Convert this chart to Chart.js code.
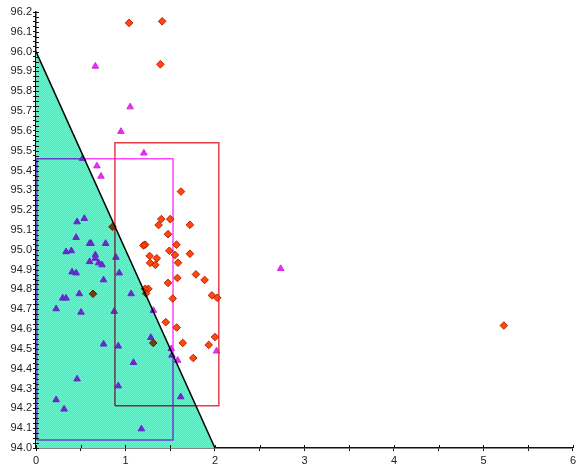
<!DOCTYPE html>
<html>
<head>
<meta charset="utf-8">
<script src="https://cdn.jsdelivr.net/npm/chart.js@4/dist/chart.umd.min.js"></script>
<style>
  html, body { margin: 0; padding: 0; background: #fff; }
  #wrap { width: 579px; height: 464px; }
</style>
</head>
<body>
<div id="wrap"><canvas id="plot"></canvas></div>
<script>
// diamond series (red)
var diamondX = [1.04, 1.41, 1.39, 1.62, 1.40, 1.50, 1.37, 1.72, 1.475, 1.20, 1.22, 1.57, 1.49, 1.553, 1.72, 1.27, 1.35, 1.275, 1.334, 1.587,
  1.58, 1.787, 1.884, 1.475, 1.22, 1.256, 1.23, 1.966, 2.025, 1.528, 1.45, 1.572, 2.0, 1.93, 1.64, 1.757, 1.31, 0.855, 0.637, 5.228];
var diamondY = [96.145, 96.153, 95.936, 95.294, 95.155, 95.155, 95.125, 95.126, 95.079, 95.022, 95.026, 95.026, 94.995, 94.974, 94.98, 94.969, 94.957, 94.934, 94.924, 94.935,
  94.858, 94.876, 94.848, 94.833, 94.803, 94.803, 94.78, 94.77, 94.758, 94.754, 94.635, 94.608, 94.56, 94.52, 94.53, 94.454, 94.53, 95.116, 94.778, 94.618];

// triangle series (magenta)
var triangleX = [0.663, 1.052, 0.949, 1.205, 0.521, 0.681, 0.726, 0.459, 0.54, 0.448, 0.599, 0.615, 0.778, 0.336, 0.395, 0.663, 0.663, 0.599, 0.70, 0.737,
  0.893, 0.403, 0.448, 0.93, 0.755, 0.484, 0.298, 0.336, 1.063, 0.225, 0.503, 0.874, 1.312, 1.283, 0.755, 0.919, 1.512, 1.52, 1.583, 1.089,
  2.018, 0.459, 0.919, 1.617, 0.225, 0.314, 1.178, 2.734];
var triangleY = [95.926, 95.721, 95.597, 95.488, 95.461, 95.423, 95.371, 95.141, 95.158, 95.062, 95.032, 95.032, 95.032, 94.99, 94.995, 94.974, 94.957, 94.94, 94.934, 94.924,
  94.962, 94.888, 94.883, 94.883, 94.848, 94.778, 94.756, 94.756, 94.778, 94.702, 94.685, 94.689, 94.694, 94.557, 94.524, 94.514, 94.501, 94.468, 94.442, 94.431,
  94.489, 94.348, 94.313, 94.258, 94.243, 94.196, 94.096, 94.905];

// limit line of the shaded zone
var zoneX = [0, 2];
var zoneY = [96.0, 94.0];

// boxes: [min, max]
var redBoxX = [0.882, 2.043];
var redBoxY = [94.213, 95.54];
var pinkBoxX = [0.01, 1.531];
var pinkBoxY = [94.04, 95.46];

// axis ranges / ticks
var xRange = [0, 6];
var yRange = [94.0, 96.2];
var xStep = 0.5;
var yStep = 0.025;

function toPoints(xs, ys) {
  return xs.map(function (x, i) { return { x: x, y: ys[i] }; });
}

function boxPoints(bx, by) {
  return [
    { x: bx[0], y: by[0] }, { x: bx[1], y: by[0] }, { x: bx[1], y: by[1] },
    { x: bx[0], y: by[1] }, { x: bx[0], y: by[0] }
  ];
}

function hatch() {
  var c = document.createElement('canvas');
  c.width = 2;
  c.height = 2;
  var g = c.getContext('2d');
  g.fillStyle = 'rgb(80,234,186)';
  g.fillRect(0, 0, 2, 2);
  g.fillStyle = 'rgb(104,244,204)';
  g.fillRect(0, 0, 1, 1);
  g.fillRect(1, 1, 1, 1);
  return g.createPattern(c, 'repeat');
}

// zone fill goes down first, then every mark is drawn with 'darken'
// so whatever sits inside the zone takes on its tint
var blendPlugin = {
  id: 'blend',
  beforeDatasetsDraw: function (chart) {
    chart.ctx.save();
    chart.ctx.globalCompositeOperation = 'darken';
  },
  afterDatasetsDraw: function (chart) {
    chart.ctx.restore();
  }
};

// tick marks cross the axis line: draw the inner half as well
var innerTicks = {
  id: 'innerTicks',
  afterDraw: function (chart) {
    var ctx = chart.ctx;
    var xs = chart.scales.x, ys = chart.scales.y;
    var a = chart.chartArea;
    ctx.save();
    ctx.strokeStyle = '#111';
    ctx.lineWidth = 1;
    ctx.beginPath();
    xs.ticks.forEach(function (t) {
      var px = Math.round(xs.getPixelForValue(t.value)) + 0.5;
      ctx.moveTo(px, a.bottom);
      ctx.lineTo(px, a.bottom - 3);
    });
    ys.ticks.forEach(function (t) {
      var py = Math.round(ys.getPixelForValue(t.value)) + 0.5;
      ctx.moveTo(a.left, py);
      ctx.lineTo(a.left + 3, py);
    });
    ctx.stroke();
    ctx.restore();
  }
};

var font = { family: '"Liberation Sans", Arial, sans-serif', size: 11 };

var chart = new Chart(document.getElementById('plot'), {
  type: 'scatter',
  data: {
    datasets: [
      {
        label: 'zone',
        type: 'line',
        order: 1,
        data: toPoints(zoneX, zoneY),
        borderColor: '#000',
        borderWidth: 1.5,
        backgroundColor: hatch(),
        fill: 'start',
        pointRadius: 0,
        tension: 0
      },
      {
        label: 'red box',
        type: 'line',
        order: 3,
        data: boxPoints(redBoxX, redBoxY),
        borderColor: 'rgb(232,60,72)',
        borderWidth: 1.5,
        fill: false,
        pointRadius: 0,
        tension: 0
      },
      {
        label: 'pink box',
        type: 'line',
        order: 3,
        data: boxPoints(pinkBoxX, pinkBoxY),
        borderColor: 'rgb(250,70,250)',
        borderWidth: 1.5,
        fill: false,
        pointRadius: 0,
        tension: 0
      },
      {
        label: 'diamonds',
        order: 2,
        data: toPoints(diamondX, diamondY),
        pointStyle: 'rectRot',
        pointRadius: 3.8,
        backgroundColor: 'rgb(255,72,16)',
        borderColor: 'rgb(190,30,0)',
        borderWidth: 1
      },
      {
        label: 'triangles',
        order: 2,
        data: toPoints(triangleX, triangleY),
        pointStyle: 'triangle',
        pointRadius: 3.8,
        backgroundColor: 'rgb(226,50,240)',
        borderColor: 'rgb(210,40,226)',
        borderWidth: 1
      }
    ]
  },
  options: {
    responsive: true,
    maintainAspectRatio: false,
    animation: false,
    events: [],
    layout: { padding: { top: 12, right: 4, left: 0, bottom: 0 } },
    plugins: {
      legend: { display: false },
      tooltip: { enabled: false },
      filler: { drawTime: 'beforeDatasetsDraw' }
    },
    scales: {
      x: {
        type: 'linear',
        min: xRange[0],
        max: xRange[1],
        border: { color: '#111', width: 1.5 },
        grid: { drawOnChartArea: false, color: '#111', tickLength: 3 },
        ticks: {
          stepSize: xStep,
          autoSkip: false,
          maxRotation: 0,
          padding: 3,
          color: '#222',
          font: font,
          callback: function (v) {
            return Math.abs(v - Math.round(v)) < 1e-6 ? String(Math.round(v)) : '';
          }
        },
        afterFit: function (scale) { scale.height = 16; }
      },
      y: {
        type: 'linear',
        min: yRange[0],
        max: yRange[1],
        border: { color: '#111', width: 1.5 },
        grid: { drawOnChartArea: false, color: '#111', tickLength: 3 },
        ticks: {
          stepSize: yStep,
          autoSkip: false,
          padding: 1,
          color: '#222',
          font: font,
          callback: function (v) {
            var t = v * 10;
            return Math.abs(t - Math.round(t)) < 1e-6 ? (Math.round(t) / 10).toFixed(1) : '';
          }
        },
        afterFit: function (scale) { scale.width = 36; }
      }
    }
  },
  plugins: [blendPlugin, innerTicks]
});
</script>
</body>
</html>
